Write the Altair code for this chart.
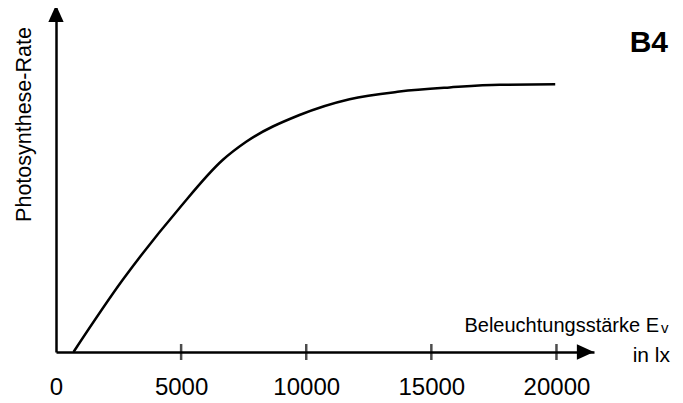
import altair as alt
import pandas as pd

# Curve (Beleuchtungsstärke in lx, Photosynthese-Rate in relative units)
lux = [700, 2660, 4930, 6660, 7600, 9730, 11730, 13730, 15730, 17730, 19950]
rate = [0, 20.9, 41.8, 55.8, 61.1, 68.9, 73.5, 75.7, 76.9, 77.7, 77.8]

tick_values = [0, 5000, 10000, 15000, 20000]
tick_marks = [5000, 10000, 15000, 20000]

X_MAX = 21500
Y_MAX = 100
FONT = "Liberation Sans, Arial, sans-serif"

curve = pd.DataFrame({"lux": lux, "rate": rate})
ticks = pd.DataFrame({"lux": tick_marks, "rate": [0] * len(tick_marks)})

xscale = alt.Scale(domain=[0, X_MAX], nice=False, zero=False)
yscale = alt.Scale(domain=[0, Y_MAX], nice=False, zero=False)

xaxis = alt.Axis(values=tick_values, format="d", title=None, grid=False,
                 ticks=False, domain=True, domainColor="black", domainWidth=2.5,
                 labelFont=FONT, labelFontSize=24, labelColor="black",
                 labelBaseline="alphabetic", labelPadding=42, labelFlush=False)
yaxis = alt.Axis(title="Photosynthese-Rate", labels=False, ticks=False, grid=False,
                 domain=True, domainColor="black", domainWidth=2.5,
                 titleFont=FONT, titleFontSize=21.5, titleFontWeight="normal",
                 titleColor="black", titleAngle=270, titleAlign="center",
                 titleBaseline="alphabetic", titleX=-26, titleY=116)

line = alt.Chart(curve).mark_line(color="black", strokeWidth=2.5, interpolate="monotone").encode(
    x=alt.X("lux:Q", scale=xscale, axis=xaxis),
    y=alt.Y("rate:Q", scale=yscale, axis=yaxis),
)

tick_layer = alt.Chart(ticks).mark_tick(color="black", thickness=2.5, size=16, orient="vertical").encode(
    x=alt.X("lux:Q", scale=xscale),
    y=alt.Y("rate:Q", scale=yscale),
)

arrows = pd.DataFrame({
    "lux": [0, X_MAX * 0.984],
    "rate": [Y_MAX * 0.984, 0],
    "shape": ["M -0.9 1 L 0 -1 L 0.9 1 Z", "M -1 -0.9 L 1 0 L -1 0.9 Z"],
})
arrow_layer = alt.Chart(arrows).mark_point(filled=True, color="black", opacity=1, size=289, strokeWidth=0).encode(
    x=alt.X("lux:Q", scale=xscale),
    y=alt.Y("rate:Q", scale=yscale),
    shape=alt.Shape("shape:N", scale=None),
)

base = alt.Chart(pd.DataFrame({"a": [0]}))
b4 = base.mark_text(text="B4", font=FONT, fontSize=30,
                    fontWeight="bold", align="right", baseline="alphabetic", color="black").encode(
    x=alt.value(612), y=alt.value(44))
xlabel = base.mark_text(text="Beleuchtungsstärke E", font=FONT, fontSize=20,
                        align="right", baseline="alphabetic", color="black").encode(
    x=alt.value(603), y=alt.value(324))
xlabel_sub = base.mark_text(text="v", font=FONT, fontSize=15,
                            align="left", baseline="alphabetic", color="black").encode(
    x=alt.value(605), y=alt.value(325))
xunit = base.mark_text(text="in lx", font=FONT, fontSize=21,
                       align="right", baseline="alphabetic", color="black").encode(
    x=alt.value(614), y=alt.value(354))

chart = alt.layer(line, tick_layer, arrow_layer, b4, xlabel, xlabel_sub, xunit).properties(
    width=538, height=344,
    autosize=alt.AutoSizeParams(type="none"),
    padding={"left": 48, "top": 0, "right": 79, "bottom": 48},
).configure(background="white").configure_view(stroke=None)

chart.save("out.html", embed_options={"renderer": "svg", "actions": False})
